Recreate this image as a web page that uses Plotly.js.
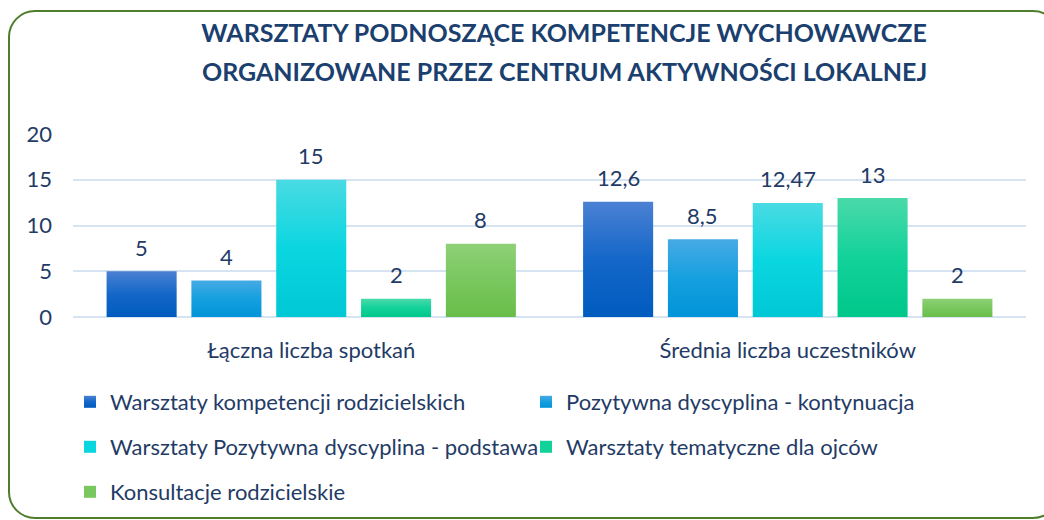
<!DOCTYPE html>
<html><head><meta charset="utf-8">
<script src="https://cdn.plot.ly/plotly-3.0.1.min.js"></script>
<style>
html,body{margin:0;padding:0;background:#fff;}
#wrap{position:relative;width:1044px;height:520px;overflow:hidden;}
#chart{width:1044px;height:520px;}
#frame{position:absolute;left:8px;top:10px;width:1052px;height:509px;border:2px solid #4E7E2C;border-radius:27px;pointer-events:none;box-sizing:border-box;}
</style></head><body>
<div id="wrap"><div id="chart"></div><div id="frame"></div></div>
<script>
const categories = ['Łączna liczba spotkań', 'Średnia liczba uczestników'];
const seriesNames = [
  'Warsztaty kompetencji rodzicielskich',
  'Pozytywna dyscyplina - kontynuacja',
  'Warsztaty Pozytywna dyscyplina - podstawa',
  'Warsztaty tematyczne dla ojców',
  'Konsultacje rodzicielskie'
];
const kompetencje = [5, 12.6];
const kontynuacja = [4, 8.5];
const podstawa = [15, 12.47];
const ojcowie = [2, 13];
const konsultacje = [8, 2];
const seriesValues = [kompetencje, kontynuacja, podstawa, ojcowie, konsultacje];
const yTicks = [0, 5, 10, 15, 20];
const titleLines = ['WARSZTATY PODNOSZĄCE KOMPETENCJE WYCHOWAWCZE', 'ORGANIZOWANE PRZEZ CENTRUM AKTYWNOŚCI LOKALNEJ'];

const colors = ['#1467C8', '#15A0DF', '#0AD6E0', '#12D29A', '#79C75E'];
const gradTop = ['#4B81D3', '#47AAE4', '#4ADBE3', '#4AD9A9', '#8ED177'];
const gradBot = ['#005BBF', '#0094D8', '#00C8D5', '#00C78A', '#69BE4A'];
const legendOf = ['legend', 'legend', 'legend2', 'legend2', 'legend3'];

const TXT = '#1F3B66';
const FONT = 'Lato, "Open Sans", sans-serif';
const BARGAP = 0.11, GROUPGAP = 0.174;
const fmt = v => String(v).replace('.', ',');

const traces = seriesValues.map((vals, i) => ({
  type: 'bar', x: categories, y: vals, name: seriesNames[i],
  marker: {color: colors[i]}, legend: legendOf[i], hoverinfo: 'y+name'
}));

const n = seriesValues.length;
const slot = (1 - BARGAP) / n;
const annotations = [];
seriesValues.forEach((vals, si) => vals.forEach((v, ci) => {
  annotations.push({x: ci + (si - (n - 1) / 2) * slot, y: v, xref: 'x', yref: 'y',
    text: fmt(v), showarrow: false, yanchor: 'middle', yshift: 24,
    font: {family: FONT, size: 22, color: TXT}});
}));
annotations.push({xref: 'paper', yref: 'paper', x: (564 - 73) / 953, y: (317 - 71) / 183,
  xanchor: 'center', yanchor: 'middle', showarrow: false, text: '<b>' + titleLines[1] + '</b>',
  font: {family: FONT, size: 25, color: '#1B3F6E'}});

const legBase = {orientation: 'h', xref: 'container', yref: 'container', xanchor: 'left', yanchor: 'middle',
  x: 70 / 1044, entrywidth: 411, entrywidthmode: 'pixels', bgcolor: 'rgba(0,0,0,0)',
  font: {family: FONT, size: 22, color: TXT}, traceorder: 'normal'};

const layout = {
  width: 1044, height: 520,
  margin: {l: 73, r: 18, t: 134, b: 203, pad: 0},
  paper_bgcolor: '#fff', plot_bgcolor: '#fff',
  font: {family: FONT, color: TXT},
  title: {text: '<b>' + titleLines[0] + '</b>', x: 564 / 1044, xanchor: 'center', xref: 'container',
    yref: 'container', y: 1 - 33 / 520, yanchor: 'middle', font: {family: FONT, size: 25, color: '#1B3F6E'}},
  barmode: 'group', bargap: BARGAP, bargroupgap: GROUPGAP,
  xaxis: {type: 'category', showgrid: false, showline: false, zeroline: false, ticks: '',
    tickfont: {family: FONT, size: 22, color: TXT}, ticklabelstandoff: 18},
  yaxis: {range: [0, 20], tickvals: yTicks, showgrid: true, gridcolor: '#D6E3F3', gridwidth: 2,
    zeroline: true, zerolinecolor: '#D6E3F3', zerolinewidth: 2, showline: false, ticks: '',
    tickfont: {family: FONT, size: 22, color: TXT}, ticklabelstandoff: 20},
  legend: Object.assign({}, legBase, {y: 1 - 402 / 520}),
  legend2: Object.assign({}, legBase, {y: 1 - 447 / 520}),
  legend3: Object.assign({}, legBase, {y: 1 - 492 / 520}),
  annotations: annotations
};

Plotly.newPlot('chart', traces, layout, {displayModeBar: false, staticPlot: true}).then(gd => {
  const svg = gd.querySelector('.main-svg');
  let defs = svg.querySelector('defs');
  const NS = 'http://www.w3.org/2000/svg';
  gradTop.forEach((c, i) => {
    const g = document.createElementNS(NS, 'linearGradient');
    g.setAttribute('id', 'bargrad' + i);
    g.setAttribute('x1', '0'); g.setAttribute('y1', '0'); g.setAttribute('x2', '0'); g.setAttribute('y2', '1');
    [[0, c], [0.5, colors[i]], [1, gradBot[i]]].forEach(([o, col]) => {
      const s = document.createElementNS(NS, 'stop');
      s.setAttribute('offset', o); s.setAttribute('stop-color', col);
      g.appendChild(s);
    });
    defs.appendChild(g);
  });
  gd.querySelectorAll('.barlayer .trace').forEach(tr => {
    const idx = tr.__data__[0].trace.index;
    tr.querySelectorAll('path').forEach(p => { p.style.fill = 'url(#bargrad' + idx + ')'; });
  });
  gd.querySelectorAll('.legend .traces').forEach(tr => {
    const idx = tr.__data__[0].trace.index;
    tr.querySelectorAll('.legendpoints path').forEach(p => { p.style.fill = 'url(#bargrad' + idx + ')'; });
  });
});
</script>
</body></html>
